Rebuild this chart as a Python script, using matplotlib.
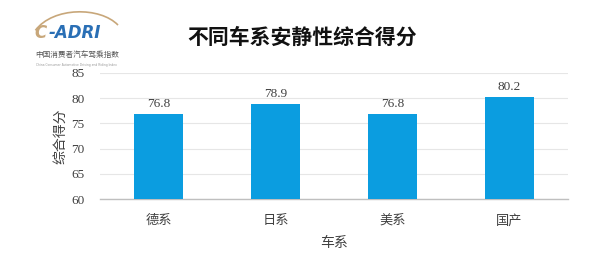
import numpy as np
import matplotlib.pyplot as plt
from matplotlib.path import Path
from matplotlib.patches import PathPatch

categories = ['德系', '日系', '美系', '国产']
scores = [76.8, 78.9, 76.8, 80.2]
yticks = [60, 65, 70, 75, 80, 85]

cjk = ['Noto Sans CJK SC', 'DejaVu Sans']
serif = ['Liberation Serif', 'DejaVu Serif']
bar_color = '#0B9DE0'
text_color = '#404040'

fig = plt.figure(figsize=(5.9, 2.64), dpi=100)
ax = fig.add_axes([0.1695, 0.2462, 0.7932, 0.4773])

x = np.arange(len(categories))
bars = ax.bar(x, scores, width=0.42, color=bar_color, zorder=3)

ax.set_xlim(-0.5, len(categories) - 0.5)
ax.set_ylim(60, 85)
ax.set_yticks(yticks)
ax.set_yticklabels([str(t) for t in yticks], family=serif, fontsize=9.5, color=text_color)
ax.set_xticks(x)
ax.set_xticklabels(categories, family=cjk, fontsize=9.5, color=text_color)
ax.tick_params(axis='both', length=0)
ax.tick_params(axis='y', pad=11)
ax.tick_params(axis='x', pad=11)

ax.grid(axis='y', color='#e6e6e6', linewidth=0.8, zorder=0)
for side in ['top', 'right', 'left']:
    ax.spines[side].set_visible(False)
ax.spines['bottom'].set_color('#bfbfbf')
ax.spines['bottom'].set_linewidth(1.0)

for b, v in zip(bars, scores):
    ax.annotate(f'{v:.1f}', (b.get_x() + b.get_width() / 2, v),
                xytext=(0, 3), textcoords='offset points',
                ha='center', va='bottom', family=serif, fontsize=9.5, color=text_color)

ax.set_ylabel('综合得分', family=cjk, fontsize=10, color=text_color, labelpad=3)
ax.set_xlabel('车系', family=cjk, fontsize=10, color=text_color, labelpad=6)

fig.text(0.512, 0.858, '不同车系安静性综合得分', family=cjk, fontsize=15,
         fontweight='bold', ha='center', va='center', color='#111111')

# logo
roof = Path([(0.06, 0.885), (0.09, 0.975), (0.17, 0.975), (0.2, 0.905)],
            [Path.MOVETO, Path.CURVE4, Path.CURVE4, Path.CURVE4])
fig.add_artist(PathPatch(roof, transform=fig.transFigure, fill=False,
                         edgecolor='#c8a77a', linewidth=1.2))
fig.text(0.058, 0.875, 'C', fontsize=12, fontweight='bold', fontstyle='italic',
         color='#c8a77a', ha='left', va='center')
fig.text(0.083, 0.875, '-ADRI', fontsize=12, fontweight='bold', fontstyle='italic',
         color='#2a6fb5', ha='left', va='center')
fig.text(0.13, 0.79, '中国消费者汽车驾乘指数', family=cjk, fontsize=5.5,
         color='#555555', ha='center', va='center')
fig.text(0.13, 0.755, 'China Consumer Automotive Driving and Riding Index', fontsize=2.2,
         color='#999999', ha='center', va='center')

fig.savefig('out.png', dpi=100)
